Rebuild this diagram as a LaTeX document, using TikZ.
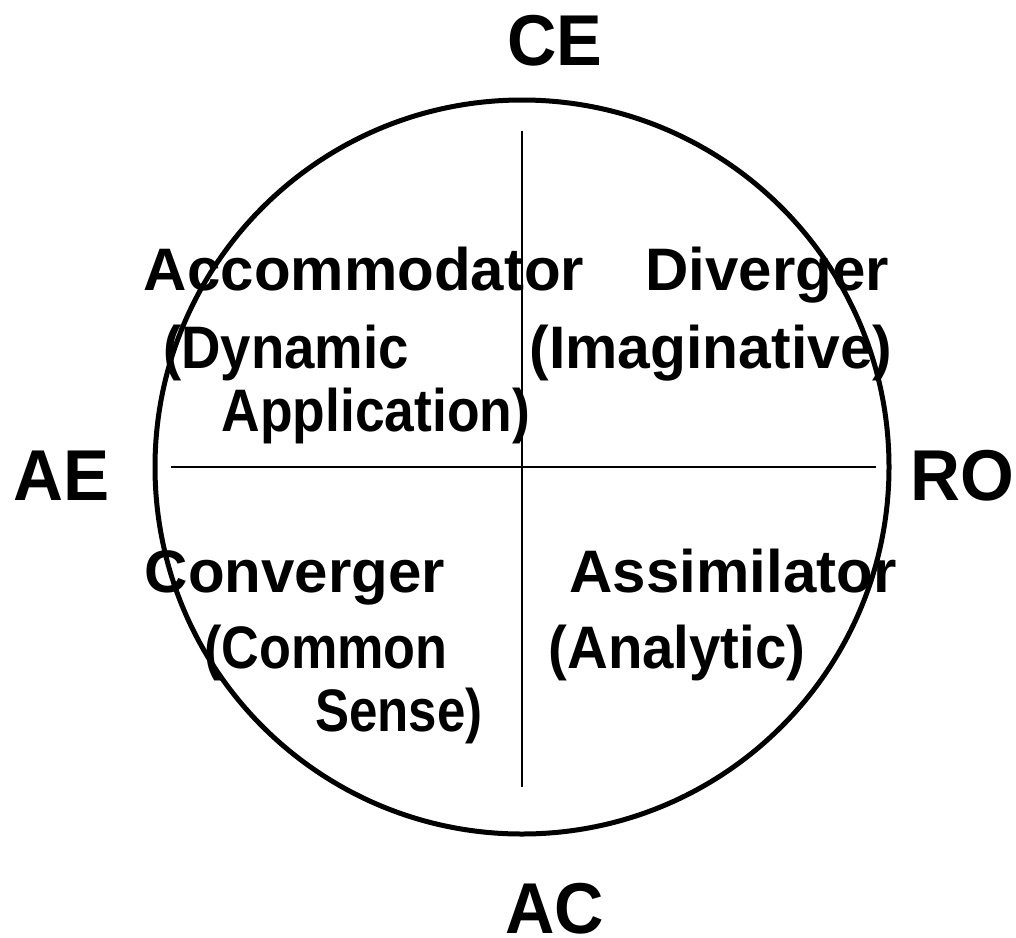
\documentclass[tikz,border=0pt]{standalone}
\usepackage{fontspec}
\usepackage{graphicx}
\setmainfont{Liberation Sans}
\newcommand{\nx}[2]{\scalebox{#1}[1]{#2}}
\begin{document}
\begin{tikzpicture}[x=1pt,y=-1pt,
  quad/.style={anchor=base,inner sep=0pt,font=\fontsize{60}{72}\selectfont\bfseries},
  pole/.style={anchor=base,inner sep=0pt,font=\fontsize{72}{86}\selectfont\bfseries},
  axis/.style={line width=1.5pt},
  ring/.style={line width=5pt}]
\useasboundingbox (0,0) rectangle (1016,937);
\fill[white] (0,0) rectangle (1016,937);
\node[ring,draw,circle,minimum size=734pt,inner sep=0pt] (ring) at (522,467) {};
\coordinate (top) at (522,131);
\coordinate (bot) at (522,787);
\coordinate (lft) at (171,467);
\coordinate (rgt) at (876,467);
\draw[axis] (top) -- (bot);
\draw[axis] (lft) -- (rgt);
\node[pole] (CE) at (555,65) {\nx{0.95}{CE}};
\node[pole] (AC) at (555,933) {\nx{0.95}{AC}};
\node[pole] (AE) at (62,500) {\nx{0.96}{AE}};
\node[pole] (RO) at (962,500) {\nx{0.96}{RO}};
\node[quad] (acc) at (364,290) {Accommodator};
\node[quad] (div) at (767,290) {Diverger};
\node[quad] (dyn) at (286,368) {\nx{0.91}{(Dynamic}};
\node[quad] (ima) at (711,368) {\nx{0.98}{(Imaginative)}};
\node[quad] (app) at (376,431) {\nx{0.89}{Application)}};
\node[quad] (con) at (295,592) {Converger};
\node[quad] (ass) at (733,592) {Assimilator};
\node[quad] (com) at (326,668) {\nx{0.87}{(Common}};
\node[quad] (ana) at (677,668) {\nx{0.94}{(Analytic)}};
\node[quad] (sen) at (399,731) {\nx{0.85}{Sense)}};
\end{tikzpicture}
\end{document}
